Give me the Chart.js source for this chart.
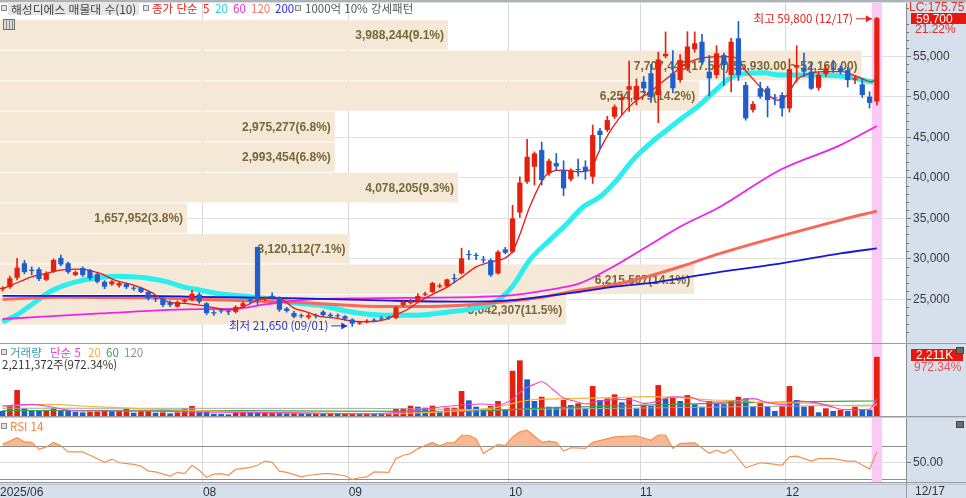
<!DOCTYPE html>
<html lang="ko">
<head>
<meta charset="utf-8">
<title>해성디에스 일봉</title>
<script src="https://cdn.jsdelivr.net/npm/chart.js@4.4.1/dist/chart.umd.min.js"></script>
<style>
  html, body { margin: 0; padding: 0; background: #fff; }
  #wrap { position: relative; width: 966px; height: 498px; background: #d6e0ed; overflow: hidden;
          font-family: "Noto Sans CJK KR", sans-serif; }
  #wrap canvas { position: absolute; left: 0; }
  .t { position: absolute; white-space: nowrap; font-size: 11.5px; line-height: 13px; }
  .n { font-family: "Liberation Sans", sans-serif; font-size: 12px; }
  .sq { position: absolute; width: 4px; height: 4px; border: 1px solid #8a8a8a; background: #e2e2e2; }
  .hl { position: absolute; left: 0; width: 966px; height: 1px; background: #9c9c9c; }
  .box { position: absolute; background: #e5170f; color: #fff; font-family: "Liberation Sans", sans-serif;
         font-size: 12px; line-height: 12px; padding-left: 5px; }
  .btn { position: absolute; width: 6px; height: 5px; background: #6d6d6d; border: 1px solid #444; }
</style>
</head>
<body>
<div id="wrap">
  <canvas id="cPrice" width="966" height="343" style="top:0;width:966px;height:343px"></canvas>
  <canvas id="cVol" width="966" height="72" style="top:344px;width:966px;height:72px"></canvas>
  <canvas id="cRsi" width="966" height="80" style="top:418px;width:966px;height:80px"></canvas>

  <div style="position:absolute;left:0;top:0;width:966px;height:2px;background:#b2b2b2"></div>
  <div class="hl" style="top:343px"></div>
  <div class="hl" style="top:416px"></div>
  <div class="hl" style="top:417px;background:#c8c8c8"></div>
  <div class="hl" style="top:482px"></div>
  <div class="hl" style="top:484px;background:#b8c4d2"></div>
  <div style="position:absolute;left:906px;top:482px;width:1px;height:16px;background:#9c9c9c"></div>

  <!-- price panel header -->
  <div class="sq" style="left:1px;top:5px"></div>
  <div class="t" style="left:8px;top:2px;background:#e6e6e6;color:#444;padding:0 3px;font-size:11.8px">해성디에스 매물대 수(10)</div>
  <div class="sq" style="left:143px;top:5px"></div>
  <div class="t" style="left:152px;top:2px;color:#e8261a">종가 단순</div>
  <div class="t" style="left:203px;top:2px;color:#e8261a">5</div>
  <div class="t" style="left:215px;top:2px;color:#27d6e2">20</div>
  <div class="t" style="left:233px;top:2px;color:#ec2ee0">60</div>
  <div class="t" style="left:251px;top:2px;color:#f7786a">120</div>
  <div class="t" style="left:275px;top:2px;color:#2a2ae6">200</div>
  <div class="sq" style="left:295px;top:5px"></div>
  <div class="t" style="left:305px;top:2px;color:#555">1000억 10% 강세패턴</div>
  <div style="position:absolute;left:3px;top:19px;width:10px;height:9px;border:1px solid #707070;
       background:repeating-linear-gradient(90deg,#dcdcdc 0 2px,#8a8a8a 2px 3px)"></div>

  <!-- volume panel header -->
  <div class="sq" style="left:1px;top:349px"></div>
  <div class="t" style="left:10px;top:346px;color:#3a9ca8">거래량</div>
  <div class="t" style="left:50px;top:346px;color:#e83cc8">단순 5</div>
  <div class="t" style="left:88px;top:346px;color:#f0b030">20</div>
  <div class="t" style="left:106px;top:346px;color:#38a845">60</div>
  <div class="t" style="left:124px;top:346px;color:#909090">120</div>
  <div class="t" style="left:2px;top:358px;color:#333">2,211,372주(972.34%)</div>

  <!-- rsi panel header -->
  <div class="sq" style="left:1px;top:423px"></div>
  <div class="t" style="left:10px;top:420px;color:#f08040">RSI 14</div>

  <!-- right axis column labels -->
  <div class="t n" style="left:909px;top:1px;color:#e0302a">LC:175.75</div>
  <div class="box" style="left:911px;top:13px;width:50px;height:11px">59,700</div>
  <div class="t n" style="left:915px;top:23px;color:#e0302a">21.22%</div>
  <div class="box" style="left:911px;top:349px;width:47px;height:12px">2,211K</div>
  <div class="btn" style="left:956px;top:347px"></div>
  <div class="t n" style="left:914px;top:361px;color:#e85050">972.34%</div>
  <div class="btn" style="left:956px;top:421px"></div>
  <div class="t n" style="left:915px;top:485px;color:#333">12/17</div>
</div>

<script>
// daily candles, 2025/06 ~ 12/17 (index 0 .. 120)
const opens = [
  26250, 26500, 27650, 29450, 28650, 28700, 27400, 28450, 30100, 29450,
  28000, 28850, 28600, 28100, 27150, 26850, 26700, 26900, 26400, 26400,
  25900, 25100, 25100, 24600, 24100, 24700, 24900, 25600, 24500, 23400,
  23600, 23500, 23450, 24100, 25000, 31450, 24950, 25400, 25150, 23850,
  23300, 23000, 22800, 23000, 23450, 23100, 23000, 22900, 22500, 22000,
  22200, 22400, 22600, 22700, 22700, 24300, 24550, 24800, 25550, 25900,
  26550, 26600, 27550, 28200, 30500, 30400, 29900, 29830, 28200, 31150,
  30860, 35700, 39500, 41350, 43420, 40540, 41800, 40950, 39800, 41000,
  41350, 40120, 45800, 45890, 47530, 49600, 50850, 49590, 51850, 52890,
  50200, 55000, 52890, 52060, 53500, 55850, 56790, 53090, 52680, 55150,
  52680, 57210, 51440, 48360, 51040, 51040, 49900, 50210, 48560, 53600,
  53500, 53100, 51100, 52800, 53400, 53500, 53300, 52100, 51530, 50000, 49400
];
const highs = [
  26550, 27850, 30050, 29800, 29000, 28900, 28400, 30000, 30450, 29600,
  28500, 29000, 28700, 28200, 27300, 27300, 27100, 27000, 26600, 26500,
  26000, 25300, 25200, 24800, 24800, 25000, 26100, 25800, 24600, 23600,
  23800, 23700, 24200, 24700, 25100, 31450, 25300, 25800, 25300, 24000,
  23500, 23200, 23200, 23200, 23600, 23300, 23200, 23000, 22600, 22300,
  22500, 22600, 22900, 22900, 24100, 24800, 25000, 25700, 25900, 27100,
  26900, 27500, 28100, 31300, 31000, 30700, 30300, 30000, 31000, 31400,
  36600, 40100, 44740, 43200, 44400, 42300, 43000, 42100, 41100, 42300,
  42100, 46500, 46100, 47600, 49000, 50400, 54400, 52200, 52500, 54000,
  55500, 58000, 55700, 55200, 58030, 58000, 57700, 55100, 56300, 55400,
  57200, 59300, 51800, 49400, 51800, 51300, 50300, 50500, 54650, 56300,
  55400, 54200, 53000, 53900, 54500, 53800, 53600, 52600, 52200, 50600, 59800
];
const lows = [
  26000, 26350, 27400, 28150, 28000, 27300, 27300, 28300, 29100, 28200,
  27900, 27800, 27400, 27000, 26300, 26700, 26500, 26300, 26100, 25800,
  24900, 24700, 24100, 24100, 24000, 24600, 24800, 24500, 23100, 23000,
  23300, 23100, 23300, 24000, 24400, 24300, 24800, 25000, 23500, 23400,
  22700, 22700, 22600, 22700, 22900, 22700, 22700, 22400, 21650, 21900,
  22100, 22200, 22400, 22500, 22600, 24100, 24400, 24700, 25400, 25800,
  26400, 26500, 27000, 28100, 29900, 29900, 29500, 27800, 28100, 30600,
  30700, 35100, 39300, 39100, 39100, 40300, 40900, 37800, 39600, 40200,
  39800, 39300, 43600, 45700, 47300, 47800, 48200, 49000, 50500, 49300,
  46800, 54800, 50500, 51800, 53200, 55500, 54000, 50100, 52300, 51400,
  50600, 52000, 47100, 48100, 49800, 47500, 49000, 47600, 48100, 51800,
  52500, 50900, 50800, 52500, 53000, 52800, 51200, 51600, 49900, 48600, 49000
];
const closes = [
  26400, 27600, 28900, 28350, 28500, 27500, 28200, 29850, 29300, 28350,
  28350, 28000, 27600, 27150, 26550, 27200, 27000, 26500, 26300, 25900,
  25100, 25000, 24300, 24300, 24650, 24900, 25650, 24700, 23300, 23250,
  23500, 23400, 24050, 24500, 24800, 24950, 25200, 25300, 23700, 23550,
  22850, 22900, 23000, 22900, 23050, 22900, 22900, 22600, 22000, 22150,
  22350, 22350, 22500, 22650, 24000, 24650, 24750, 25400, 25700, 27000,
  26700, 27450, 27500, 30050, 30450, 30350, 29800, 27980, 30860, 30750,
  34980, 39400, 42590, 43000, 39710, 42100, 41400, 38690, 40950, 40950,
  40800, 45270, 45270, 47120, 48770, 49900, 51300, 51320, 51040, 50000,
  54600, 55300, 51040, 54530, 56200, 56600, 54320, 52270, 55360, 53920,
  56800, 52680, 47330, 49100, 50000, 49590, 49800, 48560, 53420, 53900,
  53100, 51000, 52700, 53500, 53300, 53100, 52060, 52300, 50210, 49250, 59700
];
// volume, thousand shares
const volumeK = [
  187, 373, 970, 286, 224, 220, 230, 286, 224, 215,
  162, 137, 160, 165, 224, 187, 190, 286, 124, 187,
  190, 124, 137, 100, 137, 286, 373, 162, 160, 87,
  85, 62, 124, 162, 124, 120, 124, 130, 120, 100,
  124, 100, 98, 100, 75, 78, 75, 78, 100, 75,
  78, 75, 74, 100, 261, 286, 385, 348, 311, 385,
  162, 311, 311, 933, 585, 348, 261, 373, 560, 261,
  1690, 2078, 1369, 560, 720, 347, 345, 597, 410, 474,
  287, 1119, 597, 660, 809, 511, 683, 287, 410, 373,
  1156, 660, 698, 560, 783, 436, 347, 560, 448, 440,
  560, 720, 660, 373, 533, 373, 187, 384, 1119, 597,
  347, 373, 138, 287, 187, 224, 187, 347, 261, 227, 2211
];

// price moving averages: [index, value]
const ma5 = [[0,26340],[1,26660],[4,27770],[6,28190],[8,28600],[10.6,28720],[13.4,28190],[15.4,27360],[18,26750],
  [20.3,25920],[22.7,24680],[25,24480],[27,24270],[29.2,23940],[31,23660],[33,24060],[35,24890],[37,25300],
  [38.5,24900],[40,23900],[41.5,23500],[43.5,22900],[45.5,22700],[48,22300],[50,22200],[52.5,22500],[54,23100],
  [55.5,23700],[57,24600],[59,25600],[61,26500],[63,27700],[65,29000],[67,29600],[69,30100],[70,30900],[71,33000],
  [72.4,36500],[74.7,40400],[76.9,40950],[79.2,40740],[80.6,40950],[82,43500],[83.8,46300],[86.5,49180],
  [88.9,50620],[91.2,52270],[93.9,54120],[97,54900],[100.2,54940],[102.3,52890],[104.4,50830],[106.3,49590],
  [107.7,50210],[109,52060],[110.8,52890],[112.6,53090],[115.3,53090],[117.3,52470],[119.3,51850],[120,52300]];
const ma20 = [[0,22200],[1.9,23040],[4.2,24480],[6.5,25920],[8.9,26830],[11.1,27360],[13.4,27690],[15.7,27850],
  [17.9,27770],[20.2,27570],[22.6,27150],[24.8,26530],[27.1,26130],[29.4,25720],[31.6,25510],[33.9,25300],
  [36.3,25100],[38.5,24770],[40.8,24480],[43.6,24270],[47.7,23450],[52.2,23040],[56.9,23040],[61.4,23450],
  [65.5,24000],[68,24900],[70,26600],[72.4,29900],[75.1,32300],[77.5,34360],[79.7,36420],[82,37650],
  [84.3,39710],[86.5,42180],[88.9,44240],[91.2,45900],[93,47200],[95.7,49000],[97.5,50500],[99.8,52270],
  [102.2,52890],[104.4,52950],[106.7,52680],[111.2,52680],[115.9,52470],[118.1,52060],[119.3,51850],[120,52000]];
const ma60 = [[0,22560],[13.4,23250],[27.1,23780],[31.6,23800],[36.3,24400],[40.8,24900],[47.7,25100],
  [65.5,25300],[70,25510],[74.7,26130],[79.2,26950],[83.8,29010],[88.4,31480],[93,33950],[98.5,36420],
  [106.7,40950],[115,44030],[120,46380]];
const ma120 = [[0,25000],[8,25250],[20,25200],[27,25000],[40.8,24600],[52,24100],[60,24150],[65,24350],
  [70,24800],[74.7,25350],[79.2,26130],[83.8,26750],[88.4,27770],[93,29010],[98.5,30660],[115,34770],[120,35880]];
const ma200 = [[0,25420],[20,25420],[27,25300],[40.8,25100],[52,24850],[63,24700],[70,24890],[74.7,25390],
  [79.2,25920],[83.8,26530],[88.4,26950],[93,27570],[98.5,28390],[106.7,29400],[115,30660],[120,31280]];

// volume moving averages (thousand shares)
const vma5 = [[0,373],[4,435],[6.5,348],[9,224],[11,187],[20,175],[30,140],[40,115],[50,85],[55,160],[59,300],
  [63.5,420],[66,450],[68,410],[70,630],[71.5,990],[73,1190],[74,1280],[75.5,1000],[77,670],[78.5,560],[80,450],
  [82,560],[84.5,620],[86.5,600],[88,470],[90,560],[92,720],[94.5,700],[96,560],[98.7,520],[100.5,560],
  [103,650],[105,500],[107.5,430],[109.5,560],[111.5,500],[113.5,370],[115.5,240],[117.5,240],[119,250],[120,640]];
const vma20 = [[0,373],[6.5,435],[11,373],[15.7,311],[20,261],[27,199],[36,137],[45,100],[52,87],[59,137],
  [65.5,250],[68.3,348],[70,472],[72.4,597],[74.7,634],[79.3,659],[83.8,684],[88.4,721],[93,684],[97.5,597],
  [102,560],[104.4,497],[106.7,497],[111.2,472],[113.5,410],[118,373],[119.5,373],[120,472]];
const vma60 = [[0,200],[20,215],[40,190],[60,170],[65.5,187],[75,300],[88.4,410],[97.5,472],[111,535],[120,560]];
const vma120 = [[0,290],[50,285],[65,240],[84,286],[102,348],[120,410]];

// RSI 14
const rsi14 = [[0,72],[2,80],[3,75],[4,74.5],[5,66],[6,69],[7,74.5],[8,70.4],[9,63],[11,63],[12,59],[14,50.5],
  [15,54.4],[16,50],[18,48],[19,46],[20,40],[21,39],[23,34],[24,38.5],[25,37],[26,47],[27,41],[28,32.5],
  [29,36.4],[30,37],[31,35],[32,42],[34,44.5],[35,47],[36,52],[37,50.5],[38,40],[39,38.5],[41,33],[42,35],
  [44,37],[45,37],[47,34.4],[48,30],[49,32],[50,33],[51,39],[53,38.5],[54,55],[55,59],[56,61],[57,67],
  [59,74.5],[60,70.4],[61,74],[62,74],[63,83],[64,83],[65,78.5],[66,61.3],[68,72],[69,70.4],[70,81],[71,87],
  [72,89],[74,74.5],[75,76],[76,74.5],[77,64],[78,68],[80,67.3],[81,74.5],[84,81],[87,82.4],[89,77],
  [90,83.3],[91,83.3],[92,67.3],[93,73.3],[95,74],[97,61.3],[98,65],[99,61.3],[100,66],[102,44],[104,50],
  [105,49.3],[107,47],[108,57],[109,58],[111,52],[112,55],[114,55],[116,52],[117,52],[119,42.4],[120,63]];

// volume profile (매물대), bottom band first
const profileEdges = [22000, 25770, 29540, 33310, 37080, 40850, 44620, 48390, 52160, 55930, 59700];
const profileVol = ['5,042,307', '6,215,507', '3,120,112', '1,657,952', '4,078,205',
                    '2,993,454', '2,975,277', '6,254,879', '7,707,446', '3,988,244'];
const profilePct = [11.5, 14.1, 7.1, 3.8, 9.3, 6.8, 6.8, 14.2, 17.5, 9.1];

// axes
const monthStart = [0, 28, 48, 70, 88, 108];
const tickLabels = ['2025/06', '08', '09', '10', '11', '12'];
const priceTicks = [25000, 30000, 35000, 40000, 45000, 50000, 55000];
const hiDate = '12/17', loDate = '09/01';

const RED = '#e6200f', BLUE = '#1e5fcb';
const X_MIN = -0.35, X_MAX = 124;
const lastIdx = closes.length - 1;
const idx = closes.map((c, i) => i);
const candleColor = idx.map(i => closes[i] >= opens[i] ? RED : BLUE);
const volColor = idx.map(i => i > 0 && volumeK[i] >= volumeK[i - 1] ? RED : BLUE);
const pts = pairs => pairs.map(p => ({x: p[0], y: p[1]}));
const fmt = v => v.toLocaleString('en-US');

Chart.defaults.font.family = "'Liberation Sans', sans-serif";
Chart.defaults.font.size = 12;

const plotBg = {
  id: 'plotBg',
  beforeDraw(chart) {
    const {ctx, chartArea: a} = chart;
    ctx.save();
    ctx.fillStyle = '#fff';
    ctx.fillRect(a.left, a.top, a.width, a.height);
    ctx.restore();
  }
};

const todayBand = {
  id: 'todayBand',
  beforeDatasetsDraw(chart) {
    const {ctx, chartArea: a, scales: {x}} = chart;
    const l = x.getPixelForValue(lastIdx - 0.7), r = x.getPixelForValue(lastIdx + 0.7);
    ctx.save();
    ctx.fillStyle = '#fbc9f5';
    ctx.fillRect(l, a.top, r - l, a.height);
    ctx.restore();
  }
};

const profileBands = {
  id: 'profileBands',
  beforeDatasetsDraw(chart) {
    const {ctx, chartArea: a, scales: {y, xProf}} = chart;
    const maxPct = Math.max(...profilePct);
    ctx.save();
    const rects = profilePct.map((pct, k) => {
      const top = y.getPixelForValue(profileEdges[k + 1]) + 2;
      const bot = y.getPixelForValue(profileEdges[k]) + 1;
      const right = xProf.getPixelForValue(pct);
      ctx.fillStyle = '#f5e8d7';
      ctx.fillRect(a.left, top, right - a.left, bot - top);
      return {top, bot, right};
    });
    ctx.font = "bold 12px 'Liberation Sans'";
    ctx.fillStyle = '#7a6738';
    ctx.textAlign = 'right';
    ctx.textBaseline = 'middle';
    profilePct.forEach((pct, k) => {
      let txt = profileVol[k] + '(' + pct.toFixed(1) + '%)';
      if (pct === maxPct) {
        txt += '(' + fmt(profileEdges[k + 1]) + '.00 ~ ' + fmt(profileEdges[k]) + '.00)';
      }
      const r = rects[k];
      ctx.fillText(txt, r.right - 4, (r.top + r.bot) / 2 + 1);
    });
    ctx.restore();
  }
};

function arrowLabel(ctx, px, py, text, color) {
  const tip = px - 5, tail = tip - 16;
  ctx.strokeStyle = color;
  ctx.fillStyle = color;
  ctx.lineWidth = 1;
  ctx.beginPath(); ctx.moveTo(tail, py + 0.5); ctx.lineTo(tip, py + 0.5); ctx.stroke();
  ctx.beginPath(); ctx.moveTo(tip, py + 0.5); ctx.lineTo(tip - 6, py - 3); ctx.lineTo(tip - 6, py + 4); ctx.closePath(); ctx.fill();
  ctx.font = "11.5px 'Noto Sans CJK KR'";
  ctx.textAlign = 'right';
  ctx.textBaseline = 'middle';
  ctx.fillText(text, tail - 3, py);
}

const hiLoMarks = {
  id: 'hiLoMarks',
  afterDatasetsDraw(chart) {
    const {ctx, scales: {x, y}} = chart;
    const hi = Math.max(...highs), lo = Math.min(...lows);
    const hiI = highs.indexOf(hi), loI = lows.indexOf(lo);
    ctx.save();
    arrowLabel(ctx, x.getPixelForValue(hiI), y.getPixelForValue(hi) + 1, '최고 ' + fmt(hi) + ' (' + hiDate + ')', '#e3211b');
    arrowLabel(ctx, x.getPixelForValue(loI), y.getPixelForValue(lo) - 1, '최저 ' + fmt(lo) + ' (' + loDate + ')', '#2432c8');
    ctx.restore();
  }
};

const minorTicks = {
  id: 'minorTicks',
  afterDraw(chart) {
    const {ctx, chartArea: a, scales: {y}} = chart;
    ctx.save();
    ctx.strokeStyle = '#777';
    ctx.lineWidth = 1;
    for (let v = 20000; v <= 61000; v += 1000) {
      if (v % 5000 === 0) continue;
      const py = Math.round(y.getPixelForValue(v)) + 0.5;
      ctx.beginPath(); ctx.moveTo(a.right, py); ctx.lineTo(a.right + 3, py); ctx.stroke();
    }
    ctx.restore();
  }
};

function xAxis(withLabels) {
  const ax = {
    type: 'linear', min: X_MIN, max: X_MAX, offset: false,
    afterBuildTicks: s => { s.ticks = monthStart.map((m, k) => ({value: k === 0 ? X_MIN : m - 0.5})); },
    grid: {color: c => c.index === 0 ? 'rgba(0,0,0,0)' : '#d8d8d8', drawTicks: false, offset: false},
    border: {display: false},
    ticks: {display: false}
  };
  if (withLabels) {
    ax.ticks = {display: true, autoSkip: false, maxRotation: 0, align: 'start', padding: 3,
                color: '#333', font: {size: 12}, callback: (v, k) => tickLabels[k]};
    ax.afterFit = s => { s.height = 16; s.paddingLeft = 0; s.paddingRight = 0; };
  }
  return ax;
}

function line(pairs, color, width, order, yAxisID) {
  return {type: 'line', data: pts(pairs), borderColor: color, borderWidth: width, pointRadius: 0,
          cubicInterpolationMode: 'monotone', order, xAxisID: 'x', yAxisID};
}

const common = {
  responsive: false, animation: false, events: [],
  plugins: {legend: {display: false}, tooltip: {enabled: false}}
};

// price panel
new Chart(document.getElementById('cPrice'), {
  data: {
    datasets: [
      {type: 'bar', data: idx.map(i => ({x: i, y: [lows[i], highs[i]]})), backgroundColor: candleColor,
       barThickness: 1, grouped: false, order: 1, xAxisID: 'x', yAxisID: 'y'},
      {type: 'bar', data: idx.map(i => ({x: i, y: [opens[i], closes[i]]})), backgroundColor: candleColor,
       barPercentage: 0.72, categoryPercentage: 1, minBarLength: 1, grouped: false, order: 0, xAxisID: 'x', yAxisID: 'y'},
      line(ma5, '#ee1414', 1.3, 2, 'y'),
      line(ma200, '#1616d8', 1.8, 3, 'y'),
      line(ma60, '#ee22ee', 1.8, 4, 'y'),
      line(ma120, '#f7685a', 3, 5, 'y'),
      line(ma20, '#2beeee', 5, 6, 'y')
    ]
  },
  options: Object.assign({}, common, {
    layout: {padding: {top: 3, left: 0, right: 0, bottom: 0}},
    scales: {
      x: xAxis(false),
      xProf: {type: 'linear', axis: 'x', position: 'bottom', display: false, offset: false,
              min: 0, max: Math.max(...profilePct) / 0.951},
      y: {
        position: 'right', min: 19600, max: 61570,
        afterBuildTicks: s => { s.ticks = priceTicks.map(v => ({value: v})); },
        afterFit: s => { s.width = 60; s.paddingTop = 0; s.paddingBottom = 0; },
        ticks: {color: '#3a3a3a', padding: 2, font: {size: 12}, callback: v => fmt(v)},
        grid: {color: '#e2e2e2', tickColor: '#777', tickLength: 5},
        border: {color: '#8c8c8c'}
      }
    }
  }),
  plugins: [plotBg, profileBands, todayBand, hiLoMarks, minorTicks]
});

// volume panel
new Chart(document.getElementById('cVol'), {
  data: {
    datasets: [
      {type: 'bar', data: idx.map(i => ({x: i, y: volumeK[i]})), backgroundColor: volColor,
       barPercentage: 0.78, categoryPercentage: 1, order: 5, xAxisID: 'x', yAxisID: 'y'},
      line(vma120, '#a8a8a8', 1, 4, 'y'),
      line(vma60, '#3aa845', 1.2, 3, 'y'),
      line(vma20, '#f2b63a', 1.2, 2, 'y'),
      line(vma5, '#ea44d0', 1.1, 1, 'y')
    ]
  },
  options: Object.assign({}, common, {
    layout: {padding: 0},
    scales: {
      x: xAxis(false),
      y: {
        position: 'right', min: 0, max: 2690,
        afterFit: s => { s.width = 60; s.paddingTop = 0; s.paddingBottom = 0; },
        ticks: {display: false},
        grid: {display: false},
        border: {color: '#8c8c8c'}
      }
    }
  }),
  plugins: [plotBg, todayBand]
});

// RSI panel with date axis
new Chart(document.getElementById('cRsi'), {
  data: {
    datasets: [
      {type: 'line', data: pts(rsi14), borderColor: '#f59150', borderWidth: 1.2, pointRadius: 0, tension: 0,
       fill: {target: {value: 70}, above: 'rgba(245,168,118,0.8)', below: 'rgba(0,0,0,0)'},
       xAxisID: 'x', yAxisID: 'y'}
    ]
  },
  options: Object.assign({}, common, {
    layout: {padding: 0},
    scales: {
      x: xAxis(true),
      y: {
        position: 'right', min: 26.9, max: 103.7,
        afterBuildTicks: s => { s.ticks = [30, 50, 70].map(v => ({value: v})); },
        afterFit: s => { s.width = 60; s.paddingTop = 0; s.paddingBottom = 0; },
        ticks: {color: '#3a3a3a', padding: 2, font: {size: 12}, callback: v => v === 50 ? '50.00' : ''},
        grid: {color: c => c.tick && c.tick.value === 50 ? '#dcdcdc' : '#8e8e8e',
               tickColor: c => c.tick && c.tick.value === 50 ? '#777' : 'rgba(0,0,0,0)', tickLength: 5},
        border: {color: '#8c8c8c'}
      }
    }
  }),
  plugins: [plotBg, todayBand]
});
</script>
</body>
</html>
